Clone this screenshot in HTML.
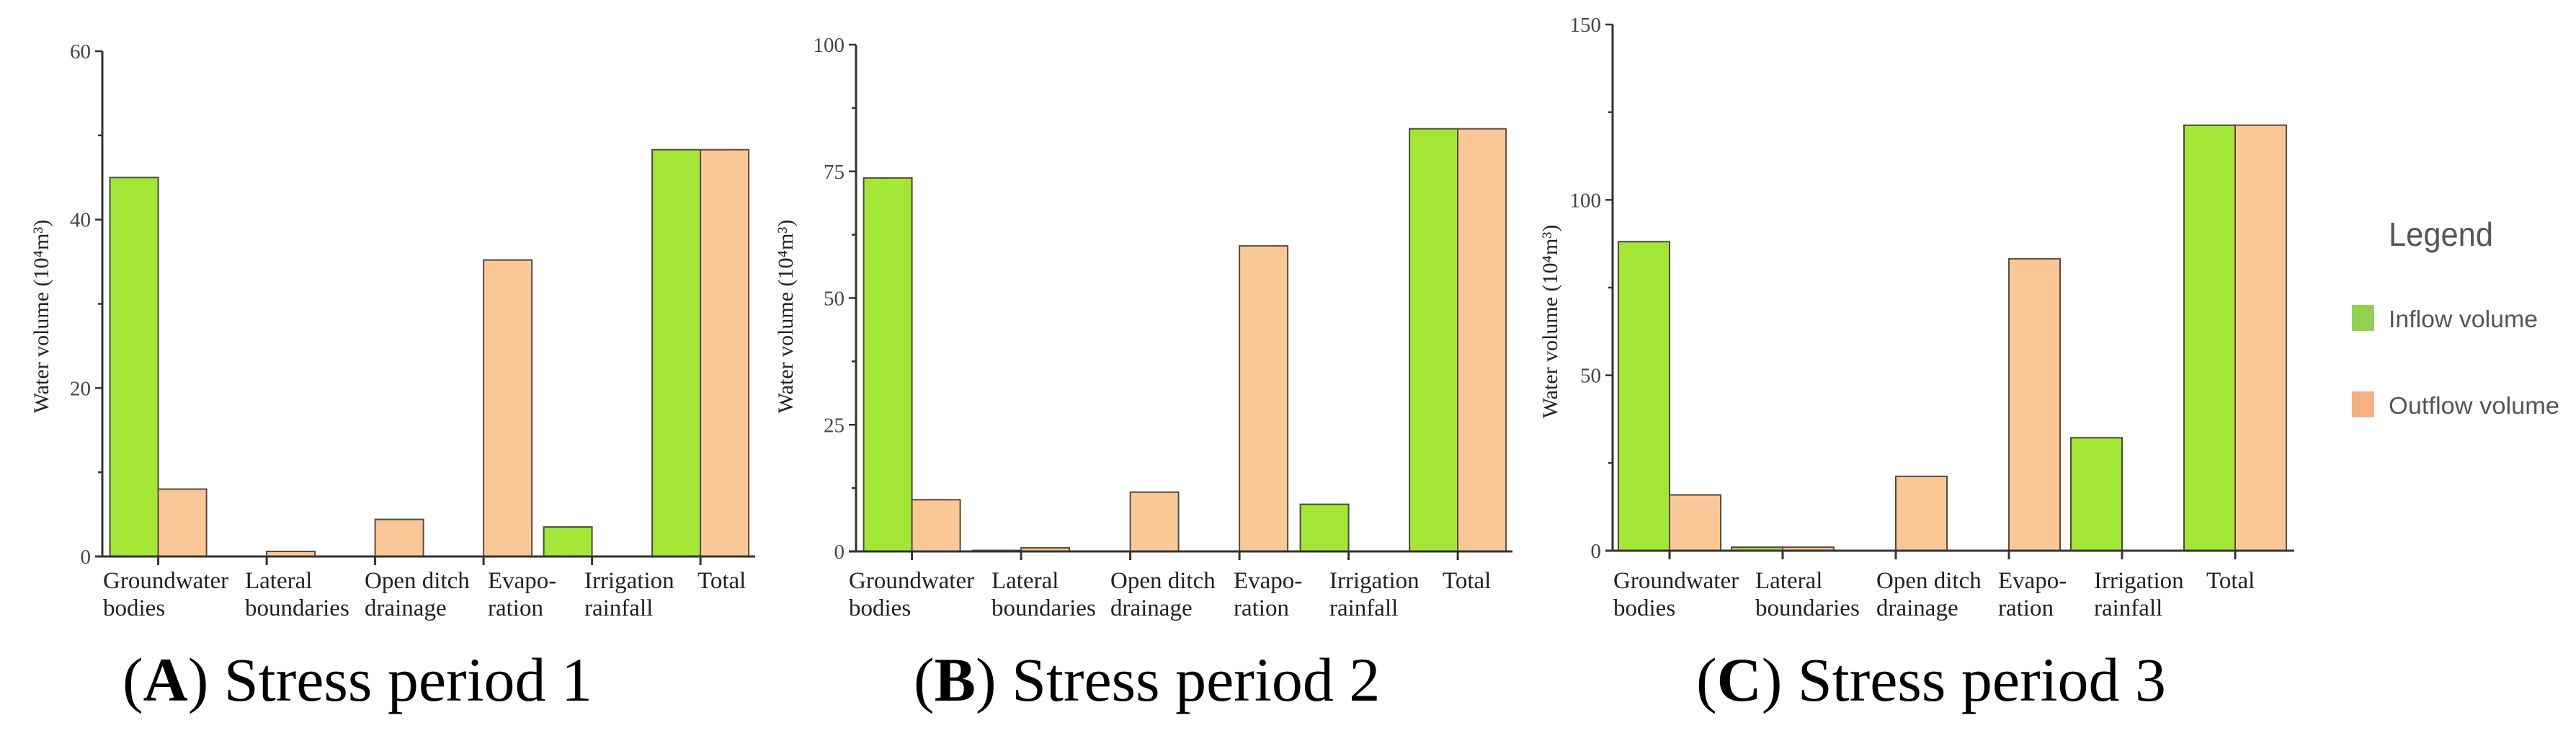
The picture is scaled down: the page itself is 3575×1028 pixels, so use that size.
<!DOCTYPE html>
<html><head><meta charset="utf-8"><style>
html,body{margin:0;padding:0;background:#fff;}
svg{display:block;}
</style></head><body>
<svg id="fig" width="3575" height="1028" viewBox="0 0 3575 1028" xmlns="http://www.w3.org/2000/svg"></svg>
<script>
const categories = ["Groundwater|bodies","Lateral|boundaries","Open ditch|drainage","Evapo-|ration","Irrigation|rainfall","Total"];
const inflowA = [45.0, 0, 0, 0, 3.5, 48.3];
const outflowA = [8.0, 0.6, 4.4, 35.2, 0, 48.3];
const inflowB = [73.7, 0.2, 0, 0, 9.3, 83.4];
const outflowB = [10.2, 0.7, 11.7, 60.3, 0, 83.4];
const inflowC = [88.1, 1.0, 0, 0, 32.2, 121.3];
const outflowC = [15.9, 1.0, 21.2, 83.2, 0, 121.3];
const ticksA = [0, 20, 40, 60];
const ticksB = [0, 25, 50, 75, 100];
const ticksC = [0, 50, 100, 150];
const captions = ["A|) Stress period 1","B|) Stress period 2","C|) Stress period 3"];
const legendLabels = ["Inflow volume","Outflow volume"];

const NS = "http://www.w3.org/2000/svg";
const svg = document.getElementById('fig');
const GREEN = "#a3e635", ORANGE = "#f9c896";
function mk(tag, attrs, parent){
  const e = document.createElementNS(NS, tag);
  for (const k in attrs) e.setAttribute(k, attrs[k]);
  (parent||svg).appendChild(e);
  return e;
}
const panels = [
  {id:'a', inflow:inflowA, outflow:outflowA, ticks:ticksA, max:60, minor:10,
   axX:142, y0:772, yTop:71, xEnd:1048, t0:219.6, step:150.5, bw:67,
   labelX:[143,340,506,677,811,968], titleX:57, titleY:439, capX:170, cap:captions[0]},
  {id:'b', inflow:inflowB, outflow:outflowB, ticks:ticksB, max:100, minor:12.5,
   axX:1188, y0:765, yTop:62, xEnd:2099, t0:1265.6, step:151.5, bw:67,
   labelX:[1178,1376,1541,1712,1845,2002], titleX:1090, titleY:439, capX:1268, cap:captions[1]},
  {id:'c', inflow:inflowC, outflow:outflowC, ticks:ticksC, max:150, minor:25,
   axX:2238, y0:764, yTop:34, xEnd:3184, t0:2317, step:157, bw:71,
   labelX:[2239,2436,2604,2773,2906,3062], titleX:2151, titleY:446, capX:2354, cap:captions[2]}
];
panels.forEach(p => {
  const g = mk('g', {});
  
  
  const yS = v => p.y0 - (v / p.max) * (p.y0 - p.yTop);
  const xS = i => p.t0 + i * p.step;
  // bars
  categories.forEach((c, i) => {
    const vi = p.inflow[i], vo = p.outflow[i];
    if (vi > 0) {
      const r = mk('rect', {x:xS(i)-p.bw, y:yS(vi), width:p.bw, height:p.y0-yS(vi), fill:GREEN, stroke:'#4a4a3a', 'stroke-width':2}, g);
      
      
    }
    if (vo > 0) {
      const r = mk('rect', {x:xS(i), y:yS(vo), width:p.bw, height:p.y0-yS(vo), fill:ORANGE, stroke:'#5a4a40', 'stroke-width':2}, g);
      
      
    }
  });
  // axes
  const ya = mk('line', {x1:p.axX, y1:p.yTop, x2:p.axX, y2:p.y0, stroke:'#333', 'stroke-width':3}, g);
  
  
  const xa = mk('line', {x1:p.axX-10, y1:p.y0, x2:p.xEnd, y2:p.y0, stroke:'#333', 'stroke-width':3}, g);
  
  
  for (let v = 0; v <= p.max + 0.001; v += p.minor) {
    mk('line', {x1:p.axX-(p.ticks.includes(v)?10:6), y1:yS(v), x2:p.axX, y2:yS(v), stroke:'#333', 'stroke-width':2.5}, g);
  }
  p.ticks.forEach(v => {
    const t = mk('text', {x:p.axX-16, y:yS(v)+10, 'text-anchor':'end', 'font-family':'Liberation Serif, serif', 'font-size':29, fill:'#444'}, g);
    t.textContent = v;
    
    
  });
  categories.forEach((c, i) => {
    mk('line', {x1:xS(i), y1:p.y0, x2:xS(i), y2:p.y0+12, stroke:'#333', 'stroke-width':3}, g);
    const parts = c.split('|');
    parts.forEach((s, k) => {
      const t = mk('text', {x:p.labelX[i], y:816 + k*38, 'font-family':'Liberation Serif, serif', 'font-size':33, fill:'#222'}, g);
      t.textContent = s;
      
      
    });
  });
  const yt = mk('text', {x:0, y:0, transform:`translate(${p.titleX+10},${p.titleY}) rotate(-90)`, 'text-anchor':'middle', 'font-family':'Liberation Serif, serif', 'font-size':30, fill:'#222'}, g);
  yt.textContent = 'Water volume (10\u2074m\u00B3)';
  
  
  const cp = p.cap.split('|');
  const cap = mk('text', {x:p.capX, y:972, 'font-family':'Liberation Serif, serif', 'font-size':86, fill:'#000'}, g);
  
  
  const t1 = mk('tspan', {}, cap); t1.textContent = '(';
  const t2 = mk('tspan', {'font-weight':'bold'}, cap); t2.textContent = cp[0];
  const t3 = mk('tspan', {}, cap); t3.textContent = cp[1];
});
// legend
const lg = mk('g', {});


const lt = mk('text', {x:3315, y:341, 'font-family':'Liberation Sans, sans-serif', 'font-size':46, fill:'#555', textLength:145, lengthAdjust:'spacingAndGlyphs'}, lg);
lt.textContent = 'Legend';


const lcol = ["#92d050", "#f4b183"];
const lys = [423, 543];
const lw = [207, 237];
legendLabels.forEach((s, i) => {
  const r = mk('rect', {x:3264, y:lys[i], width:31, height:36, fill:lcol[i]}, lg);
  
  
  const t = mk('text', {x:3315, y:lys[i]+31, 'font-family':'Liberation Sans, sans-serif', 'font-size':33, fill:'#555', textLength:lw[i], lengthAdjust:'spacingAndGlyphs'}, lg);
  t.textContent = s;
  
  
});
</script>
</body></html>
